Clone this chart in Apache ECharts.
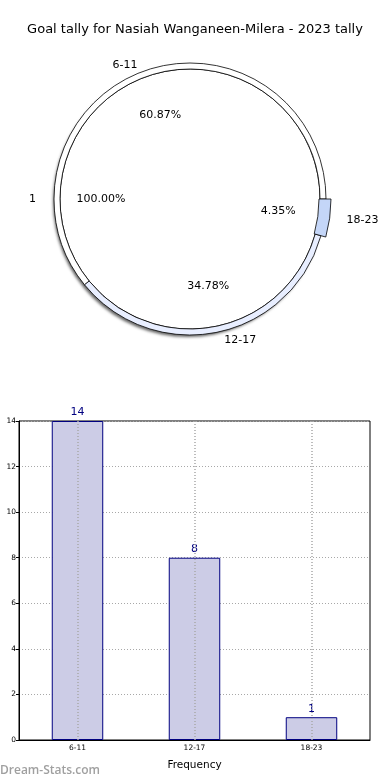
<!DOCTYPE html>
<html>
<head>
<meta charset="utf-8">
<script src="https://cdn.jsdelivr.net/npm/echarts@6/dist/echarts.min.js"></script>
<style>
html,body{margin:0;padding:0;background:#fff;}
#c{width:390px;height:780px;}
</style>
</head>
<body>
<div id="c"></div>
<script>
// ---- data ----
var titleText = 'Goal tally for Nasiah Wanganeen-Milera - 2023 tally';
var categories = ['6-11', '12-17', '18-23'];
var goalValues = [14, 8, 1];
var innerName = '1';
var innerValue = 23;
var ringColors = ['#ffffff', '#e8eeff', '#c4d6f8'];
var nameLineLen = [6, 8, 17];

var total = goalValues.reduce(function (a, b) { return a + b; }, 0);
function pct(v) { return (v / total * 100).toFixed(2) + '%'; }

var FONT = 'DejaVu Sans';
var C = [190, 199];
var R_IN = 130;

var ringMain = categories.map(function (c, i) {
  var show = i < 2;
  return {
    name: c, value: goalValues[i],
    itemStyle: show ? { color: ringColors[i], borderColor: '#000', borderWidth: 0.8 }
                    : { color: 'transparent', borderWidth: 0 },
    label: { show: true, formatter: c },
    labelLine: { show: false, length: nameLineLen[i], length2: 0 }
  };
});
var ringSmall = categories.map(function (c, i) {
  var show = i === 2;
  return {
    name: c, value: goalValues[i],
    itemStyle: show ? { color: ringColors[i], borderColor: '#000', borderWidth: 0.8 }
                    : { color: 'transparent', borderWidth: 0 }
  };
});
var pctData = categories.map(function (c, i) {
  return { name: c, value: goalValues[i], label: { formatter: pct(goalValues[i]) } };
});

var chart = echarts.init(document.getElementById('c'), null, { renderer: 'canvas' });
chart.setOption({
  animation: false,
  backgroundColor: '#fff',
  title: {
    text: titleText, left: 'center', top: 18,
    textStyle: { fontFamily: FONT, fontSize: 13, fontWeight: 'normal', color: '#000' }
  },
  grid: { left: 19, right: 20, top: 421, bottom: 40, show: true, borderColor: '#000', borderWidth: 1,
    containLabel: false, outerBoundsMode: 'none' },
  xAxis: {
    type: 'category', data: categories,
    name: 'Frequency', nameLocation: 'middle', nameGap: 20,
    nameTextStyle: { fontFamily: FONT, fontSize: 10.5, color: '#000' },
    axisLine: { lineStyle: { color: '#000' } },
    axisTick: { show: false },
    axisLabel: { fontFamily: FONT, fontSize: 7.5, color: '#000', margin: 4 },
    splitLine: { show: false }
  },
  yAxis: {
    type: 'value', min: 0, max: 14, interval: 2,
    name: 'Goal tally', nameLocation: 'middle', nameGap: 20, nameMoveOverlap: false,
    nameTextStyle: { fontFamily: FONT, fontSize: 10, color: '#000' },
    axisLine: { show: true, lineStyle: { color: '#000' } },
    axisTick: { show: true, length: 3, lineStyle: { color: '#000' } },
    axisLabel: { fontFamily: FONT, fontSize: 7.5, color: '#000', margin: 3 },
    splitLine: { show: true, lineStyle: { color: '#a8a8a8', type: [1, 2], width: 1 } }
  },
  graphic: [{
    type: 'text', left: 0, bottom: 3,
    style: { text: 'Dream-Stats.com', fill: '#a0a0a0', font: '600 12px "Open Sans"' }
  }],
  series: [
    {
      type: 'pie', center: C, radius: [0, R_IN + 5], startAngle: 0, clockwise: false,
      silent: true, label: { show: false }, labelLine: { show: false },
      itemStyle: { color: '#fff', borderWidth: 0,
        shadowBlur: 3, shadowColor: 'rgba(0,0,0,0.6)', shadowOffsetX: -2, shadowOffsetY: 3 },
      data: [{ name: innerName, value: innerValue }]
    },
    {
      type: 'pie', center: C, radius: [0, R_IN], startAngle: 0, clockwise: false,
      avoidLabelOverlap: false, silent: true,
      itemStyle: { color: '#fff', borderColor: '#000', borderWidth: 0.8 },
      label: { show: true, position: 'outside', formatter: innerName, fontFamily: FONT, fontSize: 11, color: '#000' },
      labelLine: { show: false, length: 19, length2: 0 },
      data: [{ name: innerName, value: innerValue }]
    },
    {
      type: 'pie', center: C, radius: [R_IN, R_IN + 6], startAngle: 0, clockwise: false,
      avoidLabelOverlap: false, silent: true,
      label: { show: true, position: 'outside', fontFamily: FONT, fontSize: 11, color: '#000' },
      data: ringMain
    },
    {
      type: 'pie', center: C, radius: [R_IN - 1, R_IN + 11], startAngle: 0, clockwise: false,
      avoidLabelOverlap: false, silent: true,
      label: { show: false }, labelLine: { show: false },
      data: ringSmall
    },
    {
      type: 'pie', center: C, radius: [0, 172], startAngle: 0, clockwise: false,
      avoidLabelOverlap: false, silent: true,
      itemStyle: { color: 'transparent', borderWidth: 0 },
      label: { show: true, position: 'inside', formatter: pct(innerValue), fontFamily: FONT, fontSize: 11, color: '#000' },
      labelLine: { show: false },
      data: [{ name: innerName, value: innerValue }]
    },
    {
      type: 'pie', center: C, radius: [0, 172], startAngle: 0, clockwise: false,
      avoidLabelOverlap: false, silent: true,
      itemStyle: { color: 'transparent', borderWidth: 0 },
      label: { show: true, position: 'inside', fontFamily: FONT, fontSize: 11, color: '#000' },
      labelLine: { show: false },
      data: pctData
    },
    {
      type: 'bar', data: goalValues, barWidth: '44%',
      itemStyle: { color: 'rgb(204,204,230)', borderColor: '#000080', borderWidth: 1 },
      label: { show: true, position: 'top', distance: 3, fontFamily: FONT, fontSize: 11, color: '#000080' },
      markLine: {
        silent: true, symbol: 'none', label: { show: false },
        lineStyle: { color: '#a8a8a8', type: [1, 2], width: 1.5 },
        data: categories.map(function (c) { return { xAxis: c }; })
      }
    }
  ]
});
</script>
</body>
</html>
